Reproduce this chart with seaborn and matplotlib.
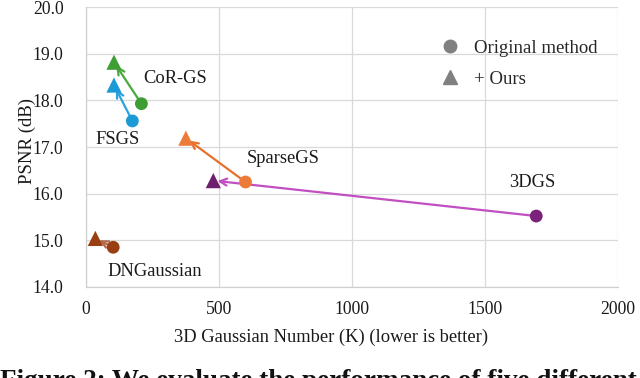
import pandas as pd
import matplotlib
matplotlib.use('Agg')
import matplotlib.pyplot as plt
import seaborn as sns
from matplotlib.lines import Line2D

# 数据
methods = ['CoR-GS', 'FSGS', 'SparseGS', '3DGS', 'DNGaussian']
orig_num = [209, 175, 600, 1692, 103]
orig_psnr = [17.93, 17.56, 16.25, 15.52, 14.85]
ours_num = [106, 106, 376, 479, 36]
ours_psnr = [18.82, 18.33, 17.19, 16.28, 15.04]

x_ticks = [0, 500, 1000, 1500, 2000]
y_ticks = [14.0, 15.0, 16.0, 17.0, 18.0, 19.0, 20.0]

# 颜色
marker_colors = {'CoR-GS': '#3d9e33', 'FSGS': '#1b9ad6', 'SparseGS': '#ec7b3a',
                 '3DGS': '#7b237a', 'DNGaussian': '#9a3f12'}
ours_colors = {'CoR-GS': '#3d9e33', 'FSGS': '#1b9ad6', 'SparseGS': '#ec7b3a',
               '3DGS': '#6e1f6e', 'DNGaussian': '#9a3f12'}
arrow_colors = {'CoR-GS': '#4aa83f', 'FSGS': '#2aa3dd', 'SparseGS': '#e86f2c',
                '3DGS': '#c24fc2', 'DNGaussian': '#b36a4c'}
label_pos = {'CoR-GS': (335, 18.47), 'FSGS': (120, 17.16), 'SparseGS': (741, 16.75),
             '3DGS': (1677, 16.24), 'DNGaussian': (259, 14.33)}

sns.set_style('white')
plt.rcParams['font.family'] = ['Liberation Serif', 'DejaVu Serif']

df = pd.DataFrame({
    'method': methods * 2,
    'num': orig_num + ours_num,
    'psnr': orig_psnr + ours_psnr,
    'kind': ['orig'] * len(methods) + ['ours'] * len(methods),
})

fig = plt.figure(figsize=(6.4, 3.78), dpi=100)
ax = fig.add_axes([0.134, 0.241, 0.832, 0.740])

# 箭头：原方法 -> 我们的方法
for i, m in enumerate(methods):
    ax.annotate('', xy=(ours_num[i], ours_psnr[i]), xytext=(orig_num[i], orig_psnr[i]),
                arrowprops=dict(arrowstyle='->,head_length=0.5,head_width=0.25',
                                color=arrow_colors[m], lw=1.6, shrinkA=0, shrinkB=3),
                zorder=2)

orig_df = df[df['kind'] == 'orig']
ours_df = df[df['kind'] == 'ours']
sns.scatterplot(data=orig_df, x='num', y='psnr', hue='method', palette=marker_colors,
                marker='o', s=85, linewidth=0, legend=False, ax=ax, zorder=3)
sns.scatterplot(data=ours_df, x='num', y='psnr', hue='method', palette=ours_colors,
                marker='^', s=120, linewidth=0, legend=False, ax=ax, zorder=3)

for m in methods:
    ax.text(*label_pos[m], m, ha='center', va='center', fontsize=13.3, color='#1a1a1a')

ax.set_xlim(0, 2000)
ax.set_ylim(14.0, 20.0)
ax.set_xticks(x_ticks)
ax.set_yticks(y_ticks)
ax.set_yticklabels([f'{v:.1f}' for v in y_ticks])
ax.tick_params(labelsize=12.7, length=0, colors='#1a1a1a')
ax.tick_params(axis='y', pad=16)
ax.tick_params(axis='x', pad=10)
ax.grid(True, color='#d9d9d9', lw=0.9)
for s in ['top', 'right']:
    ax.spines[s].set_visible(False)
for s in ['left', 'bottom']:
    ax.spines[s].set_color('#d0d0d0')
    ax.spines[s].set_linewidth(0.9)
ax.set_xlabel('3D Gaussian Number (K) (lower is better)', fontsize=13.3, color='#1a1a1a')
ax.set_ylabel('PSNR (dB)', fontsize=13.5, color='#1a1a1a')
ax.xaxis.label.set_va('center')
ax.yaxis.label.set_va('center')
ax.xaxis.set_label_coords(0.46, -0.179)
ax.yaxis.set_label_coords(-0.11, 0.52)

handles = [Line2D([], [], marker='o', color='#808080', ls='', ms=9),
           Line2D([], [], marker='^', color='#808080', ls='', ms=10)]
ax.legend(handles, ['Original method', '+ Ours'], loc='upper left',
          bbox_to_anchor=(0.635, 0.944), frameon=False, fontsize=13.5,
          handlelength=1.0, handletextpad=0.79, labelspacing=0.75,
          borderpad=0.4)

fig.text(0.0, 0.024, 'Figure 2: We evaluate the performance of five different',
         fontsize=19.5, fontweight='bold', va='top', ha='left', color='#111111')

fig.savefig('out.png', dpi=100)
